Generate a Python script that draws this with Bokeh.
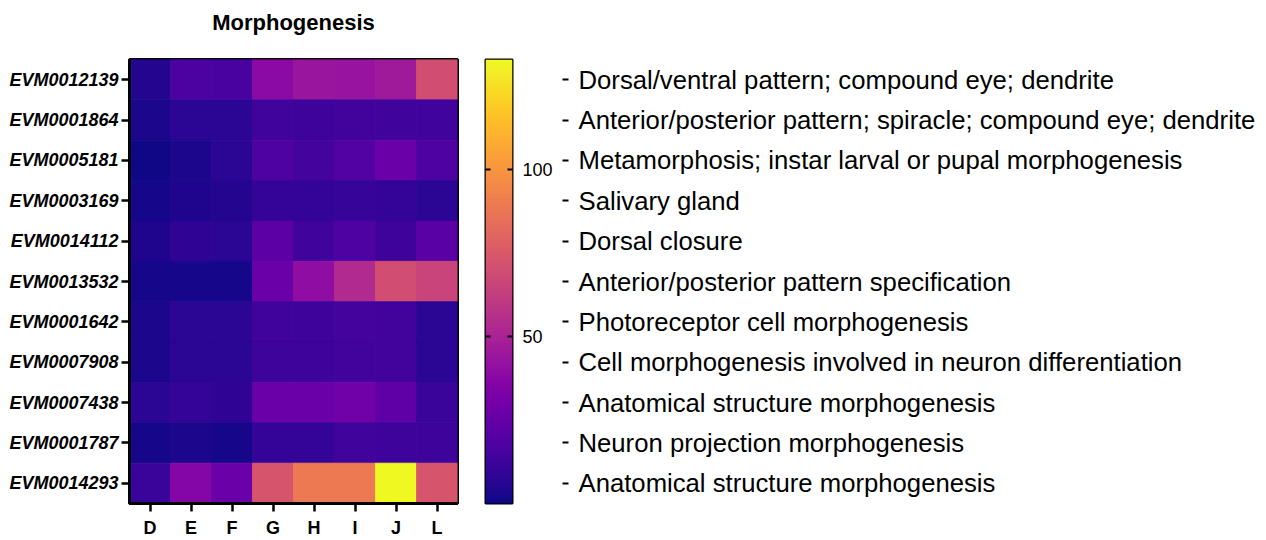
import numpy as np
from bokeh.plotting import figure
from bokeh.models import (FactorRange, Range1d, LinearColorMapper, LinearAxis,
                          FixedTicker, ColumnDataSource, Title)
from bokeh.palettes import Plasma256
from bokeh.layouts import row
from bokeh.embed import file_html
from bokeh.resources import INLINE

# ---------------- data ----------------
genes = ["EVM0012139", "EVM0001864", "EVM0005181", "EVM0003169", "EVM0014112",
         "EVM0013532", "EVM0001642", "EVM0007908", "EVM0007438", "EVM0001787",
         "EVM0014293"]
samples = ["D", "E", "F", "G", "H", "I", "J", "L"]
descriptions = [
    "Dorsal/ventral pattern; compound eye; dendrite",
    "Anterior/posterior pattern; spiracle; compound eye; dendrite",
    "Metamorphosis; instar larval or pupal morphogenesis",
    "Salivary gland",
    "Dorsal closure",
    "Anterior/posterior pattern specification",
    "Photoreceptor cell morphogenesis",
    "Cell morphogenesis involved in neuron differentiation",
    "Anatomical structure morphogenesis",
    "Neuron projection morphogenesis",
    "Anatomical structure morphogenesis",
]
values = [
    [5, 17, 16, 38, 44, 43, 46, 70],
    [3, 7, 7, 13, 12, 14, 13, 13],
    [1, 3, 7, 18, 15, 19, 27, 18],
    [2, 4, 5, 9, 9, 10, 9, 7],
    [4, 8, 7, 22, 13, 18, 12, 21],
    [2, 2, 2, 27, 40, 53, 70, 65],
    [3, 7, 7, 13, 12, 15, 14, 7],
    [3, 7, 7, 12, 12, 14, 14, 7],
    [7, 9, 8, 27, 27, 29, 23, 11],
    [2, 3, 2, 9, 9, 13, 12, 12],
    [11, 36, 27, 73, 89, 89, 133, 73],
]
color_low = 0
color_high = 133
colorbar_ticks = [50, 100]
title_text = "Morphogenesis"

FONT = "Liberation Sans"
H = 540
TOP = 59
BOTTOM = 33

# ---------------- heatmap ----------------
xs, ys, vs = [], [], []
for g, rowvals in zip(genes, values):
    for s, v in zip(samples, rowvals):
        xs.append(s); ys.append(g); vs.append(v)
src = ColumnDataSource(dict(x=xs, y=ys, v=vs))

mapper = LinearColorMapper(palette=Plasma256, low=color_low, high=color_high)
yr = FactorRange(factors=list(reversed(genes)))

p1 = figure(width=470, height=H, x_range=FactorRange(factors=samples), y_range=yr,
            output_backend="svg", toolbar_location=None,
            min_border_left=129, min_border_right=13,
            min_border_top=TOP, min_border_bottom=BOTTOM)
p1.rect(x="x", y="y", width=1, height=1, source=src,
        fill_color={"field": "v", "transform": mapper},
        line_color={"field": "v", "transform": mapper}, line_width=0.8)
p1.title.text = title_text
p1.title.align = "center"
p1.title.text_font = FONT
p1.title.text_font_size = "22px"
p1.title.text_font_style = "bold"
p1.title.text_color = "black"
p1.title.standoff = 6
# empty spacer between the title and the frame
p1.add_layout(Title(text=" ", text_font_size="1px", standoff=19), "above")
p1.grid.visible = False
p1.outline_line_color = "black"
p1.outline_line_width = 3
p1.background_fill_color = None
p1.border_fill_color = "white"
for ax in (p1.xaxis[0], p1.yaxis[0]):
    ax.axis_line_width = 3
    ax.axis_line_color = "black"
    ax.major_tick_line_width = 2.5
    ax.major_tick_line_color = "black"
    ax.major_tick_out = 8
    ax.major_tick_in = 0
    ax.minor_tick_line_color = None
    ax.major_label_text_font = FONT
    ax.major_label_text_color = "black"
    ax.major_label_text_font_style = "bold"
p1.xaxis.major_label_text_font_size = "18px"
p1.xaxis.major_label_standoff = 6
p1.yaxis.major_label_text_font_size = "18px"
p1.yaxis.major_label_text_font_style = "bold italic"
p1.yaxis.major_label_standoff = 3

# ---------------- colour bar ----------------
grad = np.linspace(color_low, color_high, 256).reshape(-1, 1)
p2 = figure(width=85, height=H, x_range=Range1d(0, 1),
            y_range=Range1d(color_low, color_high),
            output_backend="svg", toolbar_location=None,
            min_border_left=15, min_border_right=41,
            min_border_top=TOP, min_border_bottom=BOTTOM,
            y_axis_location="right")
p2.image(image=[grad], x=0, y=color_low, dw=1, dh=color_high - color_low,
         color_mapper=mapper)
p2.xaxis.visible = False
p2.grid.visible = False
p2.outline_line_color = "black"
p2.outline_line_width = 2
ax = p2.yaxis[0]
ax.ticker = FixedTicker(ticks=colorbar_ticks)
ax.axis_line_color = None
ax.major_tick_in = 5
ax.major_tick_out = 0
ax.major_tick_line_width = 2
ax.major_tick_line_color = "black"
ax.minor_tick_line_color = None
ax.major_label_text_font = FONT
ax.major_label_text_font_size = "18px"
ax.major_label_text_color = "black"
ax.major_label_standoff = 10
lax = LinearAxis(ticker=FixedTicker(ticks=colorbar_ticks),
                 major_label_overrides={t: "" for t in colorbar_ticks},
                 axis_line_color=None, major_tick_in=5, major_tick_out=0,
                 major_tick_line_width=2, minor_tick_line_color=None,
                 major_label_text_font_size="1px")
p2.add_layout(lax, "left")

# ---------------- annotation labels ----------------
n = len(genes)
label_pos = list(range(n))
p3 = figure(width=711, height=H, x_range=Range1d(0, 1),
            y_range=Range1d(-0.5, n - 0.5),
            output_backend="svg", toolbar_location=None,
            min_border_left=0, min_border_right=704,
            min_border_top=TOP, min_border_bottom=BOTTOM,
            y_axis_location="right")
p3.scatter(x=[], y=[])
p3.xaxis.visible = False
p3.grid.visible = False
p3.outline_line_color = None
ax3 = p3.yaxis[0]
ax3.ticker = FixedTicker(ticks=label_pos)
ax3.axis_line_color = None
ax3.major_tick_in = 0
ax3.major_tick_out = 6
ax3.major_tick_line_width = 2
ax3.major_tick_line_color = "black"
ax3.minor_tick_line_color = None
ax3.major_label_standoff = 10
ax3.major_label_text_font = FONT
ax3.major_label_text_font_size = "25.7px"
ax3.major_label_text_color = "black"
ax3.major_label_overrides = {n - 1 - i: d for i, d in enumerate(descriptions)}

layout = row(p1, p2, p3)
open("out.html", "w").write(file_html(layout, INLINE))
